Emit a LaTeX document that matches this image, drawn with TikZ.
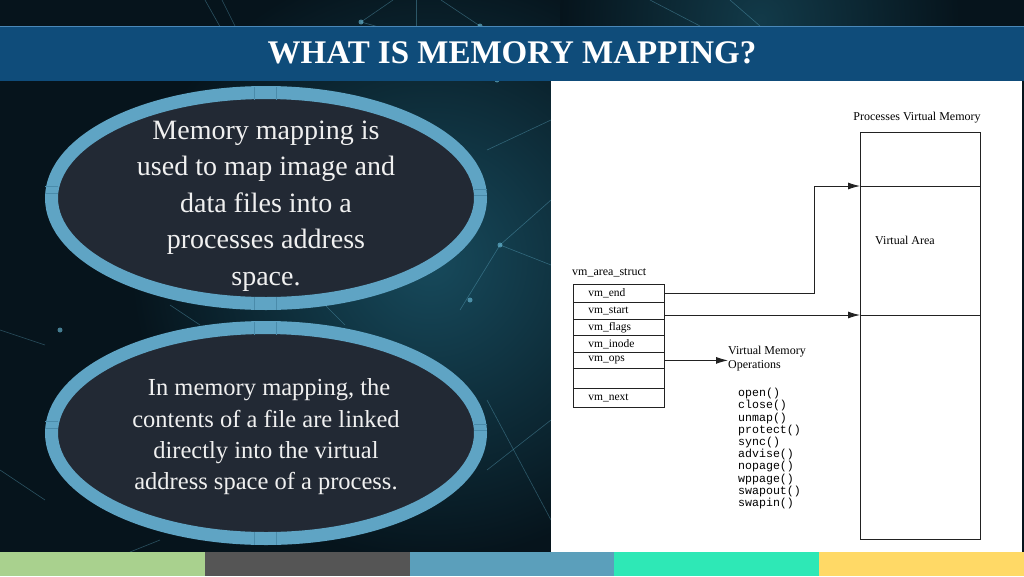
\documentclass[tikz,border=0pt]{standalone}
\usepackage{fontspec}
\setmainfont{Liberation Serif}
\setmonofont{Liberation Mono}
\usetikzlibrary{arrows.meta,calc}
\definecolor{bgdark}{HTML}{06141C}
\definecolor{bgglow}{HTML}{174A5C}
\definecolor{titlebar}{HTML}{0F4C7A}
\definecolor{titleline}{HTML}{4A88B8}
\definecolor{ringblue}{HTML}{5FA4C4}
\definecolor{ringtick}{HTML}{4A8BAA}
\definecolor{innerdark}{HTML}{222934}
\definecolor{netblue}{HTML}{6FC3E0}
\definecolor{lineink}{HTML}{222222}
\definecolor{barA}{HTML}{A9D18E}
\definecolor{barB}{HTML}{555555}
\definecolor{barC}{HTML}{5B9FBB}
\definecolor{barD}{HTML}{2EE8B6}
\definecolor{barE}{HTML}{FFD966}
\tikzset{
  ring/.style={draw=ringblue, line width=13pt, fill=innerdark},
  tick/.style={draw=ringtick, line width=0.8pt},
  etext/.style={text=white!94!black, align=center, inner sep=0pt},
  row/.style={draw=lineink, line width=0.8pt, minimum width=91pt, text width=61pt,
    inner xsep=15pt, inner ysep=0pt, anchor=north west, align=left,
    font=\fontsize{11.5}{12}\selectfont},
  arr/.style={draw=lineink, line width=0.9pt, -{Latex[length=12pt,width=7pt]}},
  net/.style={draw=netblue, line width=0.6pt, opacity=0.35},
  netdot/.style={fill=netblue, opacity=0.6},
  small/.style={font=\fontsize{12}{14}\selectfont, inner sep=0pt},
}
\begin{document}
\begin{tikzpicture}[x=1pt,y=-1pt]
\useasboundingbox (0,0) rectangle (1024,576);
% background
\fill[bgdark] (0,0) rectangle (1024,576);
\begin{scope}
\clip (0,0) rectangle (1024,552);
\shade[inner color=bgglow, outer color=bgdark] (430,260) circle [radius=300pt];
\shade[inner color=bgglow!70!bgdark, outer color=bgdark] (760,20) circle [radius=200pt];
% network lines
\draw[net] (205,0) -- (250,80);
\draw[net] (222,0) -- (262,80);
\draw[net] (393,0) -- (361,22) -- (418,38) -- (480,26) -- (441,0);
\draw[net] (416,0) -- (416,30);
\draw[net] (418,38) -- (497,80);
\draw[net] (480,26) -- (497,80);
\draw[net] (730,0) -- (760,26);
\draw[net] (650,0) -- (700,26);
\draw[net] (500,245) -- (551,200);
\draw[net] (500,245) -- (551,265);
\draw[net] (460,310) -- (500,245);
\draw[net] (487,150) -- (551,120);
\draw[net] (0,330) -- (45,345);
\draw[net] (0,470) -- (45,500);
\draw[net] (487,470) -- (551,420);
\draw[net] (487,400) -- (551,520);
\draw[net] (170,305) -- (200,325);
\draw[net] (320,300) -- (345,325);
\draw[net] (130,552) -- (160,540);
\foreach \p in {(361,22),(480,26),(418,38),(500,245),(497,80),(95,50),(60,330),(470,300)}
  \fill[netdot] \p circle [radius=2.5pt];
\end{scope}
% title bar
\fill[titlebar] (0,26) rectangle (1024,81);
\draw[titleline, line width=0.8pt] (0,26.5) -- (1024,26.5);
\node[text=white, font=\bfseries\fontsize{33}{36}\selectfont, inner sep=0pt] (title) at (512,53) {WHAT IS MEMORY MAPPING?};
% white panel
\fill[white] (551,81) rectangle (1022,552);
% ellipses
\draw[ring] (266,198) ellipse [x radius=214.5pt, y radius=105.5pt];
\draw[tick] (254,87) -- (254,100) (276,87) -- (276,100);
\draw[tick] (254,297) -- (254,310) (276,297) -- (276,310);
\draw[tick] (45,186) -- (58,186) (45,193) -- (58,193);
\draw[tick] (474,189) -- (487,189) (474,195) -- (487,195);
\draw[ring] (266,433) ellipse [x radius=214.5pt, y radius=105.5pt];
\draw[tick] (254,322) -- (254,335) (276,322) -- (276,335);
\draw[tick] (254,532) -- (254,545) (276,532) -- (276,545);
\draw[tick] (45,421) -- (58,421) (45,428) -- (58,428);
\draw[tick] (474,424) -- (487,424) (474,430) -- (487,430);
\node[etext, font=\fontsize{28}{36.5}\selectfont] (t1) at (266,206)
  {Memory mapping is\\used to map image and\\data files into a\\processes address\\space.};
\node[etext, font=\fontsize{24.5}{31.3}\selectfont] (t2) at (266,437)
  {\ In memory mapping, the\\contents of a file are linked\\directly into the virtual\\address space of a process.};
% diagram
\node[small, anchor=center] (pvm) at (917,118) {Processes Virtual Memory};
\node[draw=lineink, line width=0.9pt, minimum width=120pt, minimum height=407pt, anchor=north west, inner sep=0pt] (vmem) at (860,132) {};
\node[small, anchor=center] (va) at (905,240) {Virtual Area};
\coordinate (lineA) at (0,186);
\coordinate (lineB) at (0,315);
\draw[lineink, line width=0.9pt] (vmem.west |- lineA) -- (vmem.east |- lineA);
\draw[lineink, line width=0.9pt] (vmem.west |- lineB) -- (vmem.east |- lineB);
\node[small, anchor=west] (vas) at (572,273) {vm\_area\_struct};
\node[row, minimum height=18pt] (vmend) at (573,284) {vm\_end};
\node[row, minimum height=17pt] (vmstart) at (573,302) {vm\_start};
\node[row, minimum height=16pt] (vmflags) at (573,319) {vm\_flags};
\node[row, minimum height=17pt] (vminode) at (573,335) {vm\_inode};
\node[row, minimum height=16pt] (vmops) at (573,352) {vm\_ops};
\node[row, minimum height=20pt] (vmempty) at (573,368) {};
\node[row, minimum height=19pt] (vmnext) at (573,388) {vm\_next};
\coordinate (bend) at (814,186);
\draw[arr] (vmend.east) -| (bend) -- (vmem.west |- bend);
\coordinate (sA) at (664,315);
\draw[arr] (sA) -- (vmem.west |- lineB);
\node[small, anchor=west, align=left, font=\fontsize{12}{14}\selectfont] (vmo) at (728,359) {Virtual Memory\\Operations};
\draw[arr] (vmops.east) -- (vmo.west |- vmops.east);
\node[anchor=north west, inner sep=0pt, align=left, font=\ttfamily\fontsize{11.6}{12.2}\selectfont] (funcs) at (738,388)
  {open()\\close()\\unmap()\\protect()\\sync()\\advise()\\nopage()\\wppage()\\swapout()\\swapin()};
% bottom bar
\fill[barA] (0,552) rectangle (204.8,576);
\fill[barB] (204.8,552) rectangle (409.6,576);
\fill[barC] (409.6,552) rectangle (614.4,576);
\fill[barD] (614.4,552) rectangle (819.2,576);
\fill[barE] (819.2,552) rectangle (1024,576);
\end{tikzpicture}
\end{document}
